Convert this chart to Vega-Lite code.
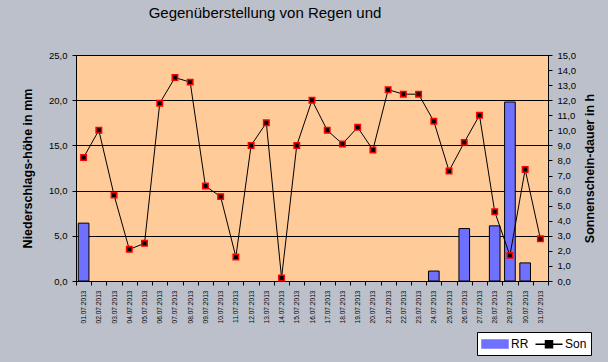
{
  "$schema": "https://vega.github.io/schema/vega-lite/v6.json",
  "width": 472,
  "height": 226,
  "autosize": "none",
  "padding": {"left": 76, "top": 55, "right": 60, "bottom": 81},
  "background": "#bcc0ca",
  "title": {
    "text": "Gegenüberstellung von Regen und",
    "font": "Liberation Sans",
    "fontSize": 15,
    "fontWeight": "normal",
    "color": "black",
    "anchor": "middle",
    "dx": -47,
    "offset": 29
  },
  "config": {
    "view": {"fill": "#ffcc99", "stroke": "black", "strokeWidth": 1}
  },
  "data": {
    "values": [
      {"date": "01.07.2013", "rr": 6.4, "son": 8.2},
      {"date": "02.07.2013", "rr": 0, "son": 10.0},
      {"date": "03.07.2013", "rr": 0, "son": 5.7},
      {"date": "04.07.2013", "rr": 0, "son": 2.1},
      {"date": "05.07.2013", "rr": 0, "son": 2.5},
      {"date": "06.07.2013", "rr": 0, "son": 11.8},
      {"date": "07.07.2013", "rr": 0, "son": 13.5},
      {"date": "08.07.2013", "rr": 0, "son": 13.2},
      {"date": "09.07.2013", "rr": 0, "son": 6.3},
      {"date": "10.07.2013", "rr": 0, "son": 5.6},
      {"date": "11.07.2013", "rr": 0, "son": 1.6},
      {"date": "12.07.2013", "rr": 0, "son": 9.0},
      {"date": "13.07.2013", "rr": 0, "son": 10.5},
      {"date": "14.07.2013", "rr": 0, "son": 0.2},
      {"date": "15.07.2013", "rr": 0, "son": 9.0},
      {"date": "16.07.2013", "rr": 0, "son": 12.0},
      {"date": "17.07.2013", "rr": 0, "son": 10.0},
      {"date": "18.07.2013", "rr": 0, "son": 9.1},
      {"date": "19.07.2013", "rr": 0, "son": 10.2},
      {"date": "20.07.2013", "rr": 0, "son": 8.7},
      {"date": "21.07.2013", "rr": 0, "son": 12.7},
      {"date": "22.07.2013", "rr": 0, "son": 12.4},
      {"date": "23.07.2013", "rr": 0, "son": 12.4},
      {"date": "24.07.2013", "rr": 1.1, "son": 10.6},
      {"date": "25.07.2013", "rr": 0, "son": 7.3},
      {"date": "26.07.2013", "rr": 5.8, "son": 9.2},
      {"date": "27.07.2013", "rr": 0, "son": 11.0},
      {"date": "28.07.2013", "rr": 6.1, "son": 4.6},
      {"date": "29.07.2013", "rr": 19.8, "son": 1.7},
      {"date": "30.07.2013", "rr": 2.0, "son": 7.4},
      {"date": "31.07.2013", "rr": 0, "son": 2.8}
    ]
  },
  "encoding": {
    "x": {
      "field": "date",
      "type": "ordinal",
      "scale": {"paddingInner": 0, "paddingOuter": 0},
      "axis": {
        "title": null,
        "labelAngle": -90,
        "labelFont": "Liberation Sans",
        "labelFontSize": 6.6,
        "labelColor": "black",
        "tickBand": "extent",
        "tickSize": 4,
        "tickColor": "black",
        "domainColor": "black",
        "labelPadding": 5,
        "grid": false
      }
    }
  },
  "layer": [
    {
      "transform": [{"filter": "datum.rr > 0"}],
      "mark": {"type": "bar", "width": {"band": 0.7}, "stroke": "black", "strokeWidth": 1, "opacity": 1},
      "encoding": {
        "y": {
          "field": "rr",
          "type": "quantitative",
          "scale": {"domain": [0, 25]},
          "axis": {
            "title": "Niederschlags-höhe in mm",
            "titleFont": "Liberation Sans",
            "titleFontSize": 12.5,
            "titleFontWeight": "bold",
            "titleColor": "black",
            "titlePadding": 14,
            "values": [0, 5, 10, 15, 20, 25],
            "labelExpr": "replace(format(datum.value, '.1f'), '.', ',')",
            "labelFont": "Liberation Sans",
            "labelFontSize": 9.5,
            "labelColor": "black",
            "tickSize": 4,
            "tickColor": "black",
            "domainColor": "black",
            "labelPadding": 5,
            "grid": true,
            "gridColor": "black",
            "gridOpacity": 1,
            "gridWidth": 1
          }
        },
        "color": {
          "datum": "RR",
          "scale": {"domain": ["RR", "Son"], "range": ["#7070ff", "black"]},
          "legend": {
            "title": null,
            "orient": "none",
            "legendX": 401,
            "legendY": 277,
            "direction": "horizontal",
            "fillColor": "white",
            "strokeColor": "black",
            "padding": 4,
            "symbolSize": 196,
            "symbolOffset": 6,
            "labelOffset": 8,
            "columnPadding": 3,
            "labelFont": "Liberation Sans",
            "labelFontSize": 12,
            "labelColor": "black",
            "encode": {
              "symbols": {
                "update": {
                  "shape": {"signal": "datum.value === 'RR' ? 'M-1.857,-0.571H1.857V0.571H-1.857Z' : 'M-1.93,0H-0.5M0.5,0H1.93M-0.5,-0.5H0.5V0.5H-0.5Z'"},
                  "fill": {"signal": "datum.value === 'RR' ? '#7070ff' : 'black'"},
                  "stroke": {"signal": "datum.value === 'RR' ? 'black' : {gradient: 'linear', stops: [{offset: 0, color: 'black'}, {offset: 0.33, color: 'black'}, {offset: 0.33, color: 'red'}, {offset: 0.67, color: 'red'}, {offset: 0.67, color: 'black'}, {offset: 1, color: 'black'}]}"},
                  "strokeWidth": {"value": 1.5},
                  "opacity": {"value": 1},
                  "fillOpacity": {"value": 1},
                  "strokeOpacity": {"value": 1}
                }
              }
            }
          }
        }
      }
    },
    {
      "encoding": {
        "y": {
          "field": "son",
          "type": "quantitative",
          "scale": {"domain": [0, 15]},
          "axis": {
            "orient": "right",
            "title": "Sonnenschein-dauer in h",
            "titleAngle": -90,
            "titleBaseline": "top",
            "titleFont": "Liberation Sans",
            "titleFontSize": 12.5,
            "titleFontWeight": "bold",
            "titleColor": "black",
            "titlePadding": 8,
            "values": [0, 1, 2, 3, 4, 5, 6, 7, 8, 9, 10, 11, 12, 13, 14, 15],
            "labelExpr": "replace(format(datum.value, '.1f'), '.', ',')",
            "labelFont": "Liberation Sans",
            "labelFontSize": 9.5,
            "labelColor": "black",
            "tickSize": 4,
            "tickColor": "black",
            "domainColor": "black",
            "labelPadding": 5,
            "grid": false
          }
        }
      },
      "layer": [
        {
          "mark": {"type": "line", "strokeWidth": 1},
          "encoding": {
            "color": {
              "datum": "Son",
              "scale": {"domain": ["RR", "Son"], "range": ["#7070ff", "black"]},
              "legend": {
                "title": null,
                "orient": "none",
                "legendX": 401,
                "legendY": 277,
                "direction": "horizontal",
                "fillColor": "white",
                "strokeColor": "black",
                "padding": 4,
                "symbolSize": 196,
                "symbolOffset": 6,
                "labelOffset": 8,
                "columnPadding": 3,
                "labelFont": "Liberation Sans",
                "labelFontSize": 12,
                "labelColor": "black",
                "encode": {
                  "symbols": {
                    "update": {
                      "shape": {"signal": "datum.value === 'RR' ? 'M-1.857,-0.571H1.857V0.571H-1.857Z' : 'M-1.93,0H-0.5M0.5,0H1.93M-0.5,-0.5H0.5V0.5H-0.5Z'"},
                      "fill": {"signal": "datum.value === 'RR' ? '#7070ff' : 'black'"},
                      "stroke": {"signal": "datum.value === 'RR' ? 'black' : {gradient: 'linear', stops: [{offset: 0, color: 'black'}, {offset: 0.33, color: 'black'}, {offset: 0.33, color: 'red'}, {offset: 0.67, color: 'red'}, {offset: 0.67, color: 'black'}, {offset: 1, color: 'black'}]}"},
                      "strokeWidth": {"value": 1.5},
                      "opacity": {"value": 1},
                      "fillOpacity": {"value": 1},
                      "strokeOpacity": {"value": 1}
                    }
                  }
                }
              }
            }
          }
        },
        {
          "mark": {"type": "point", "shape": "square", "filled": true, "fill": "black", "stroke": "red", "strokeWidth": 1.5, "size": 30, "opacity": 1}
        }
      ]
    }
  ],
  "resolve": {"scale": {"y": "independent"}}
}
